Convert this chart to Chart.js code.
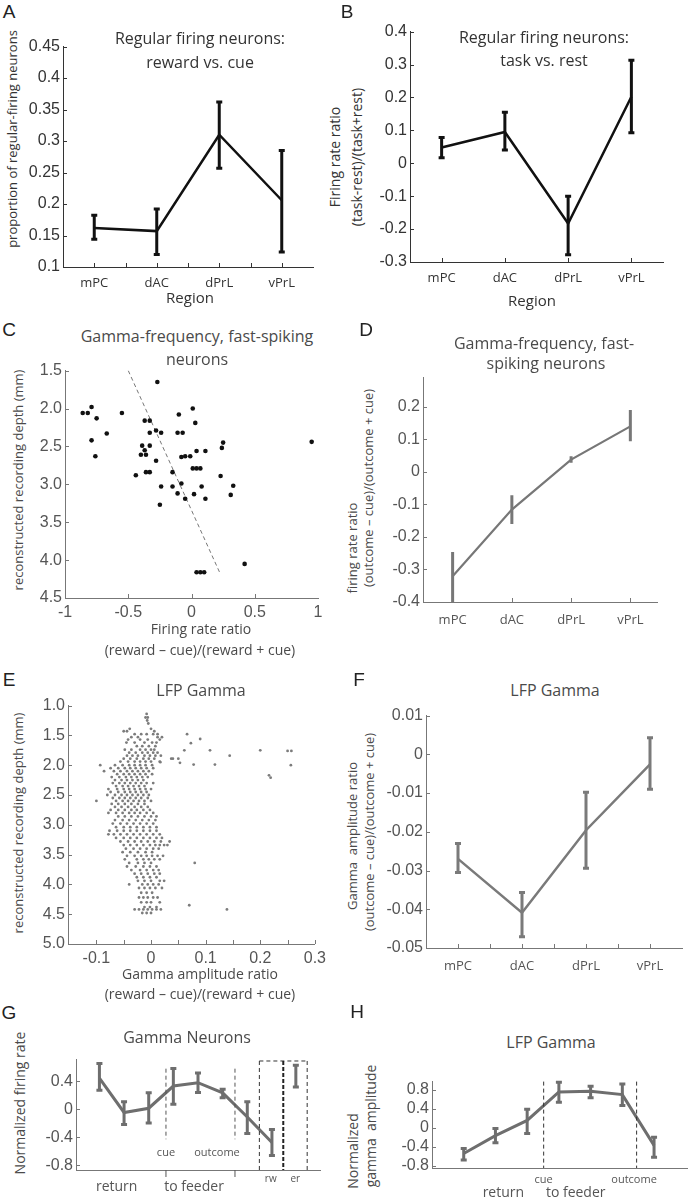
<!DOCTYPE html>
<html>
<head>
<meta charset="utf-8">
<script src="https://cdn.jsdelivr.net/npm/chart.js@4.4.1/dist/chart.umd.min.js"></script>
<style>
body { margin: 0; background: #fff; }
#fig { position: relative; width: 688px; height: 1200px; overflow: hidden; font-family: "Open Sans", sans-serif; color: #4a4a4a; }
#fig canvas { position: absolute; }
.t { position: absolute; white-space: nowrap; transform: translate(-50%, -50%); font-size: 16px; }
.v { position: absolute; white-space: nowrap; transform: translate(-50%, -50%) rotate(-90deg); font-size: 13px; }
.xl { font-size: 14px; }
.lab { position: absolute; transform: translate(-50%, -50%); font-family: "Liberation Sans", sans-serif; font-size: 19px; color: #222; }
.dark { color: #333; }
</style>
</head>
<body>
<div id="fig">
  <div class="lab" style="left:9px;top:12px">A</div>
  <div class="t dark" style="left:200px;top:38px">Regular firing neurons:</div>
  <div class="t dark" style="left:200px;top:62px">reward vs. cue</div>
  <div class="v dark" style="left:12px;top:139px">proportion of regular-firing neurons</div>
  <div class="t dark" style="left:190px;top:297px;font-size:15px">Region</div>

  <div class="lab" style="left:347px;top:12px">B</div>
  <div class="t dark" style="left:544px;top:37px">Regular firing neurons:</div>
  <div class="t dark" style="left:544px;top:60px">task vs. rest</div>
  <div class="v dark" style="left:334px;top:157px;font-size:14px">Firing rate ratio</div>
  <div class="v dark" style="left:356px;top:157px;font-size:14px">(task-rest)/(task+rest)</div>
  <div class="t dark" style="left:532px;top:300px;font-size:15px">Region</div>

  <div class="lab" style="left:9px;top:330px">C</div>
  <div class="t" style="left:197px;top:336px">Gamma-frequency, fast-spiking</div>
  <div class="t" style="left:197px;top:359px">neurons</div>
  <div class="v" style="left:18px;top:480px">reconstructed recording depth (mm)</div>
  <div class="t xl" style="left:201px;top:628px">Firing rate ratio</div>
  <div class="t xl" style="left:200px;top:649px">(reward – cue)/(reward + cue)</div>

  <div class="lab" style="left:366px;top:330px">D</div>
  <div class="t" style="left:544px;top:343px">Gamma-frequency, fast-</div>
  <div class="t" style="left:546px;top:363px">spiking neurons</div>
  <div class="v" style="left:352px;top:548px">firing rate ratio</div>
  <div class="v" style="left:368px;top:488px">(outcome – cue)/(outcome + cue)</div>

  <div class="lab" style="left:9px;top:680px">E</div>
  <div class="t" style="left:201px;top:690px">LFP Gamma</div>
  <div class="v" style="left:18px;top:823px">reconstructed recording depth (mm)</div>
  <div class="t xl" style="left:200px;top:973px">Gamma amplitude ratio</div>
  <div class="t xl" style="left:200px;top:993px">(reward – cue)/(reward + cue)</div>

  <div class="lab" style="left:359px;top:680px">F</div>
  <div class="t" style="left:555px;top:690px">LFP Gamma</div>
  <div class="v" style="left:352px;top:836px">Gamma&nbsp;&nbsp;amplitude ratio</div>
  <div class="v" style="left:369px;top:832px">(outcome – cue)/(outcome + cue)</div>

  <div class="lab" style="left:9px;top:1013px">G</div>
  <div class="t" style="left:187px;top:1037px">Gamma Neurons</div>
  <div class="v" style="left:19px;top:1103px;font-size:14px">Normalized firing rate</div>

  <div class="lab" style="left:357px;top:1012px">H</div>
  <div class="t" style="left:551px;top:1042px">LFP Gamma</div>
  <div class="v" style="left:352px;top:1151px;font-size:14px">Normalized</div>
  <div class="v" style="left:370px;top:1126px;font-size:14px">gamma&nbsp;&nbsp;amplitude</div>
</div>
<script>
const regions = ['mPC', 'dAC', 'dPrL', 'vPrL'];
const regionPos = [1, 2, 3, 4];

// A: regular firing neurons, reward vs. cue
const aMean = [0.162, 0.157, 0.310, 0.206];
const aLow = [0.144, 0.120, 0.257, 0.124];
const aHigh = [0.182, 0.192, 0.362, 0.285];
const aTicks = [0.1, 0.15, 0.2, 0.25, 0.3, 0.35, 0.4, 0.45];

// B: regular firing neurons, task vs. rest
const bMean = [0.048, 0.095, -0.183, 0.202];
const bLow = [0.017, 0.040, -0.278, 0.093];
const bHigh = [0.078, 0.155, -0.100, 0.313];
const bTicks = [-0.3, -0.2, -0.1, 0, 0.1, 0.2, 0.3, 0.4];

// C: fast-spiking neurons, ratio vs depth
const cRatio = [-0.86, -0.82, -0.79, -0.75, -0.79, -0.76, -0.67, -0.55, -0.27, -0.44, -0.40, -0.39, -0.37, -0.36, -0.36,
  -0.33, -0.33, -0.37, -0.33, -0.33, -0.28, -0.24, -0.28, -0.24, -0.25, -0.15, -0.15, -0.11, -0.08, -0.05, -0.08,
  -0.05, -0.01, -0.11, -0.07, -0.10, 0.01, 0.03, 0.04, 0.01, 0.04, 0.07, 0.02, 0.08, 0.11, 0.11, 0.23, 0.24, 0.25,
  0.31, 0.33, 0.42, 0.95, 0.04, 0.07, 0.10];
const cDepth = [2.06, 2.06, 1.98, 2.13, 2.42, 2.63, 2.33, 2.06, 1.65, 2.88, 2.61, 2.49, 2.55, 2.61, 2.84,
  2.84, 2.49, 2.16, 2.16, 2.32, 2.29, 2.32, 2.69, 3.03, 3.27, 2.84, 3.03, 3.12, 2.99, 3.19, 2.64,
  2.63, 2.63, 2.32, 2.32, 2.08, 2.00, 2.19, 2.56, 2.79, 2.79, 2.79, 3.13, 3.03, 2.56, 3.19, 2.89, 2.52, 2.45,
  3.14, 3.02, 4.05, 2.44, 4.16, 4.16, 4.16];
const cFitRatio = [-0.50, 0.23];
const cFitDepth = [1.5, 4.19];
const cDepthTicks = [1.5, 2.0, 2.5, 3.0, 3.5, 4.0, 4.5];
const cRatioTicks = [-1, -0.5, 0, 0.5, 1];

// D: fast-spiking neurons by region
const dMean = [-0.321, -0.116, 0.038, 0.140];
const dLow = [-0.400, -0.160, 0.028, 0.094];
const dHigh = [-0.246, -0.072, 0.048, 0.190];
const dTicks = [-0.4, -0.3, -0.2, -0.1, 0, 0.1, 0.2];

// E: LFP gamma sites, each row = [depth, ratio, ratio, ...]
const eRows = [
  [1.14, -0.008], [1.20, -0.010, -0.006], [1.25, -0.007], [1.30, -0.005],
  [1.39, -0.039, 0.000], [1.43, -0.050, -0.044, 0.006],
  [1.48, -0.030, -0.018, -0.008, 0.004, 0.012], [1.53, -0.036, -0.024, 0.012, 0.020],
  [1.57, -0.042, -0.020, -0.006, 0.016], [1.62, -0.045, -0.030, -0.012, 0.002, 0.010],
  [1.68, -0.026, -0.016, -0.004, 0.008], [1.74, -0.048, -0.036, -0.020, -0.010, 0.000, 0.006],
  [1.79, -0.040, -0.028, -0.016, -0.006, 0.004, 0.012],
  [1.84, -0.044, -0.034, -0.024, -0.012, -0.002, 0.008, 0.018],
  [1.89, -0.050, -0.038, -0.026, -0.014, -0.004, 0.006, 0.040],
  [1.94, -0.056, -0.042, -0.030, -0.020, -0.010, 0.000, 0.016],
  [2.00, -0.093, -0.066, -0.052, -0.040, -0.030, -0.020, -0.010, 0.002],
  [2.05, -0.074, -0.060, -0.048, -0.038, -0.028, -0.018, -0.008, 0.004],
  [2.10, -0.086, -0.068, -0.056, -0.044, -0.034, -0.024, -0.014, -0.004],
  [2.15, -0.062, -0.050, -0.040, -0.030, -0.020, -0.010, 0.002],
  [2.20, -0.072, -0.058, -0.046, -0.036, -0.026, -0.016, -0.006],
  [2.25, -0.066, -0.054, -0.044, -0.034, -0.024, -0.014],
  [2.30, -0.070, -0.058, -0.048, -0.038, -0.028, -0.018, -0.008, 0.004],
  [2.35, -0.064, -0.052, -0.042, -0.032, -0.022, -0.012],
  [2.40, -0.078, -0.062, -0.050, -0.040, -0.030, -0.020, -0.010, 0.000],
  [2.45, -0.074, -0.060, -0.048, -0.038, -0.028, -0.018, -0.008],
  [2.50, -0.080, -0.066, -0.054, -0.044, -0.034, -0.024, -0.014, -0.004],
  [2.55, -0.070, -0.058, -0.048, -0.038, -0.028, -0.018, -0.006],
  [2.60, -0.100, -0.064, -0.052, -0.042, -0.032, -0.022, -0.012, 0.000],
  [2.65, -0.072, -0.060, -0.048, -0.036, -0.024, -0.012],
  [2.70, -0.066, -0.054, -0.042, -0.030, -0.018, -0.006],
  [2.75, -0.074, -0.060, -0.048, -0.036, -0.026, -0.014, -0.002],
  [2.80, -0.078, -0.064, -0.052, -0.040, -0.030, -0.020, -0.008, 0.004],
  [2.86, -0.060, -0.048, -0.036, -0.024, -0.012, 0.000, 0.010],
  [2.92, -0.066, -0.052, -0.040, -0.028, -0.016, -0.004, 0.008],
  [2.98, -0.070, -0.056, -0.044, -0.032, -0.020, -0.008, 0.004],
  [3.04, -0.064, -0.050, -0.038, -0.026, -0.014, -0.002, 0.010],
  [3.10, -0.076, -0.062, -0.050, -0.038, -0.026, -0.014, -0.002, 0.010],
  [3.16, -0.078, -0.068, -0.056, -0.044, -0.032, -0.020, -0.008, 0.004, 0.016],
  [3.22, -0.064, -0.050, -0.038, -0.026, -0.014, -0.002, 0.010, 0.020],
  [3.28, -0.056, -0.042, -0.030, -0.018, -0.006, 0.006, 0.018, 0.034],
  [3.34, -0.050, -0.038, -0.026, -0.014, -0.002, 0.008, 0.016, 0.024, 0.030],
  [3.40, -0.046, -0.032, -0.020, -0.008, 0.004, 0.014],
  [3.46, -0.052, -0.038, -0.024, -0.010, 0.002],
  [3.52, -0.044, -0.030, -0.018, -0.008, 0.002, 0.012, 0.022],
  [3.58, -0.048, -0.026, -0.014, -0.004, 0.006, 0.016],
  [3.64, -0.040, -0.024, -0.012, 0.000, 0.080],
  [3.70, -0.044, -0.028, -0.014, -0.002, 0.010],
  [3.76, -0.036, -0.020, -0.008, 0.004, 0.014],
  [3.82, -0.030, -0.018, -0.006, 0.006, 0.016],
  [3.88, -0.026, -0.014, -0.002, 0.010],
  [3.94, -0.024, -0.012, 0.000, 0.016, 0.024],
  [4.00, -0.040, -0.016, -0.006, 0.004, 0.014],
  [4.06, -0.022, -0.012, -0.002, 0.008, 0.020],
  [4.14, -0.018, -0.008, 0.002],
  [4.22, -0.022, -0.014, -0.006, 0.004, 0.012],
  [4.30, -0.018, -0.008, 0.000, 0.016],
  [4.35, 0.070],
  [4.38, -0.012, -0.002, 0.010],
  [4.42, -0.030, -0.022, -0.014, -0.006, 0.002, 0.010, 0.018, 0.139],
  [4.48, -0.016, -0.008, 0.000]
];
const eSparseRatio = [0.066, 0.073, 0.090, 0.061, 0.108, 0.144, 0.200, 0.250, 0.257, 0.256, 0.216, 0.219, 0.117, 0.078, 0.037, 0.050, 0.053, 0.017];
const eSparseDepth = [1.48, 1.63, 1.56, 1.75, 1.75, 1.84, 1.75, 1.76, 1.76, 2.00, 2.17, 2.21, 1.99, 1.99, 1.89, 1.89, 1.96, 1.95];
const eDepthTicks = [1.0, 1.5, 2.0, 2.5, 3.0, 3.5, 4.0, 4.5, 5.0];
const eRatioTicks = [-0.1, -0.05, 0, 0.05, 0.1, 0.15, 0.2, 0.25, 0.3];

// F: LFP gamma by region
const fMean = [-0.0270, -0.0409, -0.0196, -0.0026];
const fLow = [-0.0305, -0.0471, -0.0294, -0.0090];
const fHigh = [-0.0230, -0.0357, -0.0098, 0.0043];
const fTicks = [-0.05, -0.04, -0.03, -0.02, -0.01, 0, 0.01];

// G: gamma neurons across the trial
const gBins = [1, 2, 3, 4, 5, 6, 7, 8];
const gMean = [0.444, -0.047, 0.014, 0.332, 0.379, 0.234, -0.112, -0.477];
const gLow = [0.271, -0.220, -0.196, 0.070, 0.238, 0.164, -0.346, -0.664];
const gHigh = [0.654, 0.107, 0.234, 0.584, 0.519, 0.285, 0.107, -0.290];
const gErrBin = [8.97];
const gErrLow = [0.318];
const gErrHigh = [0.630];
const gTicks = [-0.8, -0.4, 0, 0.4];

// H: LFP gamma across the trial
const hBins = [1, 2, 3, 4, 5, 6, 7];
const hMean = [-0.536, -0.163, 0.156, 0.753, 0.766, 0.698, -0.366];
const hLow = [-0.671, -0.312, -0.115, 0.536, 0.631, 0.468, -0.617];
const hHigh = [-0.434, -0.014, 0.393, 0.956, 0.875, 0.922, -0.197];
const hTicks = [-0.8, -0.4, 0, 0.4, 0.8];

const fig = document.getElementById('fig');
const NUM_FONT = { family: 'Liberation Sans', size: 16 };
const CAT_FONT = { family: 'Open Sans', size: 13 };

// canvas sized so the chart area lands on the given page box
const makeCanvas = (b) => {
    const c = document.createElement('canvas');
    c.width = b.right - b.left + b.yW + b.padR;
    c.height = b.bottom - b.top + b.padT + b.xH;
    c.style.left = (b.left - b.yW) + 'px';
    c.style.top = (b.top - b.padT) + 'px';
    fig.insertBefore(c, fig.firstChild);
    return c;
};

const axis = (min, max, ticks, o) => ({
    type: 'linear',
    min: min,
    max: max,
    reverse: !!o.reverse,
    border: { display: true, color: o.line, width: o.lineWidth || 1 },
    grid: { display: false, drawTicks: false },
    ticks: {
        display: o.labels !== false,
        autoSkip: false,
        maxRotation: 0,
        padding: o.pad || 3,
        color: o.color,
        font: o.font || NUM_FONT,
        callback: o.fmt || (v => String(v))
    },
    afterBuildTicks: s => { s.ticks = ticks.map(v => ({ value: v })); },
    afterFit: s => {
        if (s.isHorizontal()) s.height = o.size;
        else s.width = o.size;
    }
});

// short MATLAB style ticks pointing into the plot
const inwardTicks = (xs, ys, color, len) => ({
    id: 'inwardTicks',
    afterDraw(chart) {
        const { ctx, chartArea: a, scales: { x, y } } = chart;
        ctx.save();
        ctx.strokeStyle = color;
        ctx.lineWidth = 1;
        ctx.beginPath();
        xs.forEach(v => {
            const px = Math.round(x.getPixelForValue(v)) + 0.5;
            ctx.moveTo(px, a.bottom);
            ctx.lineTo(px, a.bottom - len);
        });
        ys.forEach(v => {
            const py = Math.round(y.getPixelForValue(v)) + 0.5;
            ctx.moveTo(a.left, py);
            ctx.lineTo(a.left + len, py);
        });
        ctx.stroke();
        ctx.restore();
    }
});

const errorBars = (xs, lows, highs, color, width, cap) => ({
    id: 'errorBars',
    afterDatasetsDraw(chart) {
        const { ctx, scales: { x, y } } = chart;
        ctx.save();
        ctx.strokeStyle = color;
        ctx.lineWidth = width;
        ctx.beginPath();
        xs.forEach((v, i) => {
            const px = x.getPixelForValue(v);
            const top = y.getPixelForValue(highs[i]);
            const bot = y.getPixelForValue(lows[i]);
            ctx.moveTo(px, top);
            ctx.lineTo(px, bot);
            if (cap) {
                ctx.moveTo(px - cap, top); ctx.lineTo(px + cap, top);
                ctx.moveTo(px - cap, bot); ctx.lineTo(px + cap, bot);
            }
        });
        ctx.stroke();
        ctx.restore();
    }
});

// dashed guide lines and event labels for the trial plots
const trialMarks = (lines, labels) => ({
    id: 'trialMarks',
    afterDraw(chart) {
        const { ctx, chartArea: a, scales: { x, y } } = chart;
        ctx.save();
        lines.forEach(l => {
            ctx.strokeStyle = l.color;
            ctx.lineWidth = l.width;
            ctx.setLineDash(l.dash);
            ctx.beginPath();
            ctx.moveTo(x.getPixelForValue(l.x1), y.getPixelForValue(l.y1));
            ctx.lineTo(x.getPixelForValue(l.x2), y.getPixelForValue(l.y2));
            ctx.stroke();
        });
        ctx.setLineDash([]);
        ctx.textAlign = 'center';
        ctx.textBaseline = 'middle';
        ctx.fillStyle = '#555';
        labels.forEach(t => {
            ctx.font = t.size + 'px "Open Sans"';
            ctx.fillText(t.text, x.getPixelForValue(t.x), a.bottom + t.dy);
        });
        ctx.restore();
    }
});

const pts = (xs, ys) => xs.map((v, i) => ({ x: v, y: ys[i] }));

const baseOptions = (scales) => ({
    responsive: false,
    animation: false,
    events: [],
    plugins: { legend: { display: false }, tooltip: { enabled: false } },
    scales: scales
});

const regionLabel = v => Number.isInteger(v) ? regions[v - 1] : '';

// ---------- A ----------
const boxA = { left: 63, right: 313, top: 44, bottom: 267, yW: 40, xH: 28, padT: 10, padR: 10 };
const cA = makeCanvas(boxA);
new Chart(cA, {
    type: 'scatter',
    data: { datasets: [{ data: pts(regionPos, aMean), showLine: true, borderColor: '#111', borderWidth: 2.5, pointRadius: 0 }] },
    options: Object.assign(baseOptions({
        x: axis(0.5, 4.5, [1, 1.5, 2, 2.5, 3, 3.5, 4], { line: '#333', color: '#333', font: CAT_FONT, pad: 8, size: 28, fmt: regionLabel }),
        y: axis(0.1, 0.45, aTicks, { line: '#333', color: '#333', size: 40 })
    }), { layout: { padding: { top: 10, right: 10 } } }),
    plugins: [errorBars(regionPos, aLow, aHigh, '#111', 3, 3), inwardTicks([1, 1.5, 2, 2.5, 3, 3.5, 4], aTicks, '#333', 4)]
});

// ---------- B ----------
const boxB = { left: 410, right: 663, top: 29, bottom: 262, yW: 40, xH: 28, padT: 10, padR: 10 };
const cB = makeCanvas(boxB);
new Chart(cB, {
    type: 'scatter',
    data: { datasets: [{ data: pts(regionPos, bMean), showLine: true, borderColor: '#111', borderWidth: 2.5, pointRadius: 0 }] },
    options: Object.assign(baseOptions({
        x: axis(0.5, 4.5, regionPos, { line: '#333', color: '#333', font: CAT_FONT, pad: 8, size: 28, fmt: regionLabel }),
        y: axis(-0.3, 0.4, bTicks, { line: '#333', color: '#333', size: 40 })
    }), { layout: { padding: { top: 10, right: 10 } } }),
    plugins: [errorBars(regionPos, bLow, bHigh, '#111', 3, 3), inwardTicks(regionPos, bTicks, '#333', 4)]
});

// ---------- C ----------
const boxC = { left: 65, right: 318, top: 368, bottom: 598, yW: 36, xH: 24, padT: 10, padR: 12 };
const cC = makeCanvas(boxC);
new Chart(cC, {
    type: 'scatter',
    data: { datasets: [
        { data: pts(cRatio, cDepth), backgroundColor: '#111', borderWidth: 0, pointRadius: 2.3 },
        { data: pts(cFitRatio, cFitDepth), showLine: true, borderColor: '#777', borderWidth: 1, borderDash: [4, 3], pointRadius: 0 }
    ] },
    options: Object.assign(baseOptions({
        x: axis(-1, 1, cRatioTicks, { line: '#777', color: '#555', pad: 5, size: 24 }),
        y: axis(1.5, 4.5, cDepthTicks, { line: '#777', color: '#555', size: 36, reverse: true, fmt: v => v.toFixed(1) })
    }), { layout: { padding: { top: 10, right: 12 } } }),
    plugins: [inwardTicks([-0.5, 0, 0.5], cDepthTicks, '#777', 4)]
});

// ---------- D ----------
const boxD = { left: 423, right: 657, top: 375, bottom: 602, yW: 40, xH: 30, padT: 10, padR: 10 };
const cD = makeCanvas(boxD);
new Chart(cD, {
    type: 'scatter',
    data: { datasets: [{ data: pts(regionPos, dMean), showLine: true, borderColor: '#777', borderWidth: 2.2, pointRadius: 0 }] },
    options: Object.assign(baseOptions({
        x: axis(0.5, 4.45, regionPos, { line: '#777', color: '#555', font: CAT_FONT, pad: 10, size: 30, fmt: regionLabel }),
        y: axis(-0.4, 0.29, dTicks, { line: '#777', color: '#555', size: 40 })
    }), { layout: { padding: { top: 10, right: 10 } } }),
    plugins: [errorBars(regionPos, dLow, dHigh, '#777', 3, 0), inwardTicks(regionPos, dTicks, '#777', 4)]
});

// ---------- E ----------
const eData = eRows.flatMap(r => r.slice(1).map(v => ({ x: v, y: r[0] }))).concat(pts(eSparseRatio, eSparseDepth));
const boxE = { left: 68, right: 317, top: 703, bottom: 944, yW: 36, xH: 24, padT: 10, padR: 14 };
const cE = makeCanvas(boxE);
new Chart(cE, {
    type: 'scatter',
    data: { datasets: [{ data: eData, backgroundColor: '#7c7c7c', borderWidth: 0, pointRadius: 1.4 }] },
    options: Object.assign(baseOptions({
        x: axis(-0.152, 0.3, eRatioTicks, { line: '#777', color: '#555', pad: 5, size: 24,
            fmt: v => (Math.abs(v * 10 - Math.round(v * 10)) < 1e-6 ? String(v) : '') }),
        y: axis(1.0, 5.0, eDepthTicks, { line: '#777', color: '#555', size: 36, reverse: true, fmt: v => v.toFixed(1) })
    }), { layout: { padding: { top: 10, right: 14 } } }),
    plugins: [inwardTicks(eRatioTicks, eDepthTicks, '#777', 4)]
});

// ---------- F ----------
const boxF = { left: 426, right: 682, top: 713, bottom: 948, yW: 44, xH: 30, padT: 10, padR: 6 };
const cF = makeCanvas(boxF);
new Chart(cF, {
    type: 'scatter',
    data: { datasets: [{ data: pts(regionPos, fMean), showLine: true, borderColor: '#7a7a7a', borderWidth: 2.5, pointRadius: 0 }] },
    options: Object.assign(baseOptions({
        x: axis(0.5, 4.5, [1, 1.5, 2, 2.5, 3, 3.5, 4], { line: '#777', color: '#555', font: CAT_FONT, pad: 10, size: 30, fmt: regionLabel }),
        y: axis(-0.05, 0.01, fTicks, { line: '#777', color: '#555', size: 44 })
    }), { layout: { padding: { top: 10, right: 6 } } }),
    plugins: [errorBars(regionPos, fLow, fHigh, '#7a7a7a', 3, 3), inwardTicks([1, 1.5, 2, 2.5, 3, 3.5, 4], fTicks, '#777', 4)]
});

// ---------- G ----------
const boxG = { left: 76, right: 320, top: 1057, bottom: 1170, yW: 34, xH: 26, padT: 10, padR: 8 };
const cG = makeCanvas(boxG);
new Chart(cG, {
    type: 'scatter',
    data: { datasets: [{ data: pts(gBins, gMean), showLine: true, borderColor: '#6e6e6e', borderWidth: 3, pointRadius: 0 }] },
    options: Object.assign(baseOptions({
        x: axis(0.05, 9.95, [], { line: '#777', color: '#555', labels: false, size: 26 }),
        y: axis(-0.87, 0.71, gTicks, { line: '#777', color: '#555', size: 34 })
    }), { layout: { padding: { top: 10, right: 8 } } }),
    plugins: [
        errorBars(gBins, gLow, gHigh, '#6e6e6e', 3, 3),
        errorBars(gErrBin, gErrLow, gErrHigh, '#6e6e6e', 3, 3),
        inwardTicks([], gTicks, '#777', 4),
        trialMarks([
            { x1: 3.7, y1: 0.58, x2: 3.7, y2: -0.43, color: '#555', width: 1, dash: [4, 3] },
            { x1: 6.5, y1: 0.58, x2: 6.5, y2: -0.43, color: '#555', width: 1, dash: [4, 3] },
            { x1: 3.7, y1: -0.87, x2: 3.7, y2: -0.97, color: '#555', width: 1, dash: [] },
            { x1: 6.5, y1: -0.87, x2: 6.5, y2: -0.97, color: '#555', width: 1, dash: [] },
            { x1: 7.49, y1: 0.69, x2: 9.43, y2: 0.69, color: '#333', width: 1, dash: [4, 3] },
            { x1: 7.49, y1: 0.69, x2: 7.49, y2: -0.87, color: '#333', width: 1, dash: [4, 3] },
            { x1: 8.46, y1: 0.69, x2: 8.46, y2: -0.87, color: '#222', width: 2, dash: [4, 2] },
            { x1: 9.43, y1: 0.69, x2: 9.43, y2: -0.87, color: '#333', width: 1, dash: [4, 3] }
        ], [
            { text: 'cue', x: 3.7, dy: -17, size: 11 },
            { text: 'outcome', x: 5.77, dy: -17, size: 11 },
            { text: 'rw', x: 7.95, dy: 9, size: 10 },
            { text: 'er', x: 8.95, dy: 9, size: 10 },
            { text: 'return', x: 1.7, dy: 17, size: 14 },
            { text: 'to feeder', x: 4.84, dy: 17, size: 14 }
        ])
    ]
});

// ---------- H ----------
const boxH = { left: 432, right: 688, top: 1079, bottom: 1168, yW: 34, xH: 32, padT: 10, padR: 0 };
const cH = makeCanvas(boxH);
new Chart(cH, {
    type: 'scatter',
    data: { datasets: [{ data: pts(hBins, hMean), showLine: true, borderColor: '#6e6e6e', borderWidth: 3, pointRadius: 0 }] },
    options: Object.assign(baseOptions({
        x: axis(0, 8.07, [], { line: '#777', color: '#555', labels: false, size: 32 }),
        y: axis(-0.84, 0.97, hTicks, { line: '#777', color: '#555', size: 34 })
    }), { layout: { padding: { top: 10, right: 0 } } }),
    plugins: [
        errorBars(hBins, hLow, hHigh, '#6e6e6e', 3, 3),
        inwardTicks([], hTicks, '#777', 4),
        trialMarks([
            { x1: 3.52, y1: 0.97, x2: 3.52, y2: -0.84, color: '#333', width: 1, dash: [4, 3] },
            { x1: 6.45, y1: 0.97, x2: 6.45, y2: -0.84, color: '#333', width: 1, dash: [4, 3] }
        ], [
            { text: 'cue', x: 3.52, dy: 12, size: 11 },
            { text: 'outcome', x: 6.37, dy: 12, size: 11 },
            { text: 'return', x: 2.25, dy: 25, size: 14 },
            { text: 'to feeder', x: 4.53, dy: 25, size: 14 }
        ])
    ]
});
</script>
</body>
</html>
